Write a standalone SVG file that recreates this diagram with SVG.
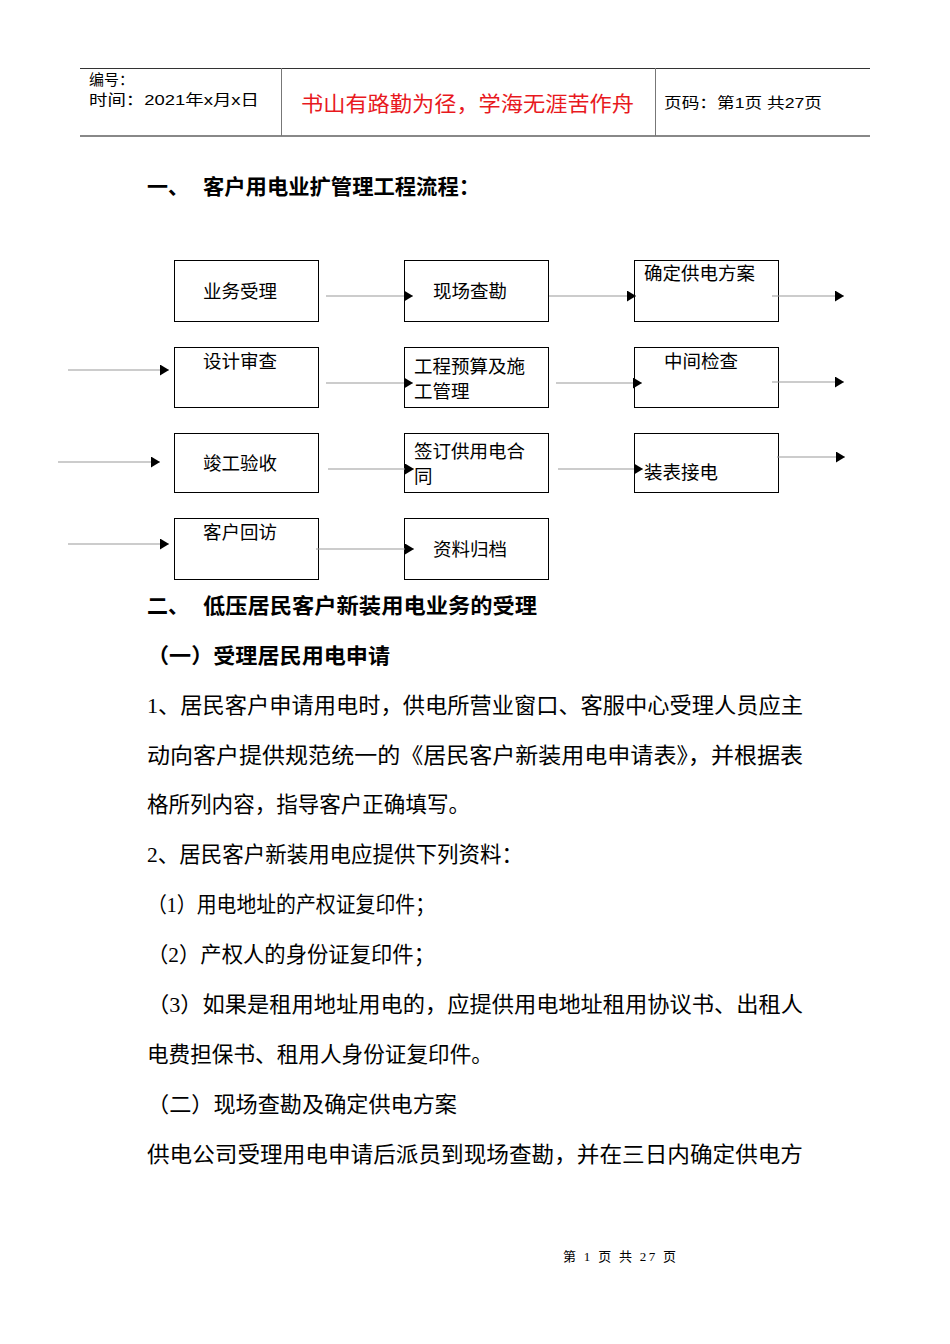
<svg xmlns="http://www.w3.org/2000/svg" width="950" height="1344" viewBox="0 0 950 1344">
<defs>
<style>
.hd{font-family:"Liberation Sans","Noto Sans CJK SC",sans-serif;font-size:15px;fill:#000}
.red{font-family:"Liberation Sans","Noto Sans CJK SC",sans-serif;font-size:21px;fill:#e8191e}
.bx{fill:#fff;stroke:#000;stroke-width:1}
.bt{font-family:"Liberation Serif","Noto Sans CJK SC",serif;font-size:18.5px;fill:#000}
.tx{font-family:"Liberation Serif","Noto Sans CJK SC",serif;font-size:21.5px;fill:#000}
.tb{font-family:"Liberation Sans","Noto Sans CJK SC",sans-serif;font-size:21px;font-weight:bold;fill:#000}
.ln{stroke:#999;stroke-width:1;fill:none;marker-end:url(#ah)}
.ft{font-family:"Liberation Serif","Noto Sans CJK SC",serif;font-size:13px;fill:#000}
</style>
<marker id="ah" viewBox="0 0 9 11" refX="9" refY="5.5" markerWidth="9" markerHeight="11" markerUnits="userSpaceOnUse" orient="auto">
<path d="M0,0 L9,5.5 L0,11 Z" fill="#000"/>
</marker>
</defs>
<rect width="950" height="1344" fill="#fff"/>
<g id="header">
<line x1="80" y1="68.5" x2="870" y2="68.5" stroke="#333" stroke-width="1"/>
<line x1="80" y1="136" x2="870" y2="136" stroke="#888" stroke-width="2"/>
<line x1="281.5" y1="68" x2="281.5" y2="136" stroke="#777" stroke-width="1"/>
<line x1="655.5" y1="68" x2="655.5" y2="136" stroke="#777" stroke-width="1"/>
<text class="hd" x="89" y="85">编号：</text>
<text class="hd" x="89" y="105" textLength="170" lengthAdjust="spacingAndGlyphs">时间：2021年x月x日</text>
<text class="red" x="301" y="111" textLength="333" lengthAdjust="spacingAndGlyphs">书山有路勤为径，学海无涯苦作舟</text>
<text class="hd" x="664" y="108" font-size="14" textLength="158" lengthAdjust="spacingAndGlyphs">页码：第1页 共27页</text>
</g>
<text class="tb" x="147" y="194">一、</text>
<text class="tb" x="203" y="194" textLength="277" lengthAdjust="spacingAndGlyphs">客户用电业扩管理工程流程：</text>
<g id="n1"><rect class="bx" x="174.5" y="260.5" width="144" height="61"/><text class="bt" x="203" y="298">业务受理</text></g>
<g id="n2"><rect class="bx" x="404.5" y="260.5" width="144" height="61"/><text class="bt" x="433" y="298">现场查勘</text></g>
<g id="n3"><rect class="bx" x="634.5" y="260.5" width="144" height="61"/><text class="bt" x="644" y="280">确定供电方案</text></g>
<g id="n4"><rect class="bx" x="174.5" y="347.5" width="144" height="60"/><text class="bt" x="203" y="368">设计审查</text></g>
<g id="n5"><rect class="bx" x="404.5" y="347.5" width="144" height="60"/><text class="bt" x="414" y="373">工程预算及施</text><text class="bt" x="414" y="398">工管理</text></g>
<g id="n6"><rect class="bx" x="634.5" y="347.5" width="144" height="60"/><text class="bt" x="664" y="368">中间检查</text></g>
<g id="n7"><rect class="bx" x="174.5" y="433.5" width="144" height="59"/><text class="bt" x="203" y="470">竣工验收</text></g>
<g id="n8"><rect class="bx" x="404.5" y="433.5" width="144" height="59"/><text class="bt" x="414" y="458">签订供用电合</text><text class="bt" x="414" y="483">同</text></g>
<g id="n9"><rect class="bx" x="634.5" y="433.5" width="144" height="59"/><text class="bt" x="644" y="479">装表接电</text></g>
<g id="n10"><rect class="bx" x="174.5" y="518.5" width="144" height="61"/><text class="bt" x="203" y="539">客户回访</text></g>
<g id="n11"><rect class="bx" x="404.5" y="518.5" width="144" height="61"/><text class="bt" x="433" y="556">资料归档</text></g>
<g id="connectors">
<line class="ln" x1="326" y1="296" x2="413" y2="296"/>
<line class="ln" x1="549" y1="296" x2="636" y2="296"/>
<line class="ln" x1="772" y1="296" x2="844" y2="296"/>
<line class="ln" x1="68" y1="370" x2="169" y2="370"/>
<line class="ln" x1="326" y1="383" x2="413" y2="383"/>
<line class="ln" x1="556" y1="383" x2="642" y2="383"/>
<line class="ln" x1="772" y1="382" x2="844" y2="382"/>
<line class="ln" x1="58" y1="462" x2="160" y2="462"/>
<line class="ln" x1="328" y1="469" x2="414" y2="469"/>
<line class="ln" x1="558" y1="469" x2="643" y2="469"/>
<line class="ln" x1="777" y1="457" x2="845" y2="457"/>
<line class="ln" x1="68" y1="544" x2="169" y2="544"/>
<line class="ln" x1="316" y1="549" x2="414" y2="549"/>
</g>
<g id="body">
<text class="tb" x="147" y="613">二、</text>
<text class="tb" x="203" y="613" textLength="334" lengthAdjust="spacingAndGlyphs">低压居民客户新装用电业务的受理</text>
<text class="tb" x="147" y="663" textLength="243" lengthAdjust="spacingAndGlyphs">（一）受理居民用电申请</text>
<text class="tx" x="147" y="713" textLength="656" lengthAdjust="spacingAndGlyphs">1、居民客户申请用电时，供电所营业窗口、客服中心受理人员应主</text>
<text class="tx" x="147" y="763" textLength="656" lengthAdjust="spacingAndGlyphs">动向客户提供规范统一的《居民客户新装用电申请表》，并根据表</text>
<text class="tx" x="147" y="812" textLength="323" lengthAdjust="spacingAndGlyphs">格所列内容，指导客户正确填写。</text>
<text class="tx" x="147" y="862" textLength="376" lengthAdjust="spacingAndGlyphs">2、居民客户新装用电应提供下列资料：</text>
<text class="tx" x="147" y="912" textLength="288" lengthAdjust="spacingAndGlyphs">（1）用电地址的产权证复印件；</text>
<text class="tx" x="147" y="962" textLength="288" lengthAdjust="spacingAndGlyphs">（2）产权人的身份证复印件；</text>
<text class="tx" x="147" y="1012" textLength="656" lengthAdjust="spacingAndGlyphs">（3）如果是租用地址用电的，应提供用电地址租用协议书、出租人</text>
<text class="tx" x="147" y="1062" textLength="346" lengthAdjust="spacingAndGlyphs">电费担保书、租用人身份证复印件。</text>
<text class="tx" x="147" y="1112" textLength="310" lengthAdjust="spacingAndGlyphs">（二）现场查勘及确定供电方案</text>
<text class="tx" x="147" y="1162" textLength="656" lengthAdjust="spacingAndGlyphs">供电公司受理用电申请后派员到现场查勘，并在三日内确定供电方</text>
</g>
<text class="ft" x="563" y="1261" textLength="113" lengthAdjust="spacing">第 1 页 共 27 页</text>
</svg>
